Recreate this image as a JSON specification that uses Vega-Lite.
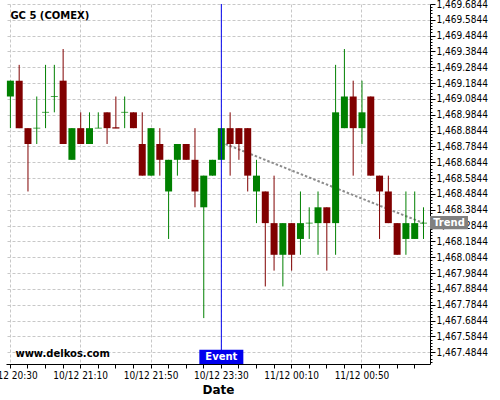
{
  "$schema": "https://vega.github.io/schema/vega-lite/v6.json",
  "width": 424,
  "height": 360,
  "autosize": {"type": "none"},
  "padding": {"left": 6, "top": 4, "right": 70, "bottom": 36},
  "config": {"font": "DejaVu Sans", "view": {"stroke": null}},
  "datasets": {
    "candles": [
      {"time": "10/12 20:30", "open": 1469.1, "high": 1469.2, "low": 1468.9, "close": 1469.2},
      {"time": "10/12 20:35", "open": 1469.2, "high": 1469.3, "low": 1468.9, "close": 1468.9},
      {"time": "10/12 20:40", "open": 1468.9, "high": 1468.9, "low": 1468.5, "close": 1468.8},
      {"time": "10/12 20:45", "open": 1468.9, "high": 1469.1, "low": 1468.8, "close": 1468.9},
      {"time": "10/12 20:50", "open": 1469.0, "high": 1469.3, "low": 1468.9, "close": 1469.0},
      {"time": "10/12 20:55", "open": 1469.1, "high": 1469.3, "low": 1469.0, "close": 1469.1},
      {"time": "10/12 21:00", "open": 1469.2, "high": 1469.4, "low": 1468.8, "close": 1468.8},
      {"time": "10/12 21:05", "open": 1468.7, "high": 1468.9, "low": 1468.7, "close": 1468.9},
      {"time": "10/12 21:10", "open": 1468.9, "high": 1469.0, "low": 1468.8, "close": 1468.8},
      {"time": "10/12 21:15", "open": 1468.8, "high": 1469.0, "low": 1468.8, "close": 1468.9},
      {"time": "10/12 21:20", "open": 1468.9, "high": 1469.0, "low": 1468.9, "close": 1468.9},
      {"time": "10/12 21:25", "open": 1469.0, "high": 1469.0, "low": 1468.8, "close": 1468.9},
      {"time": "10/12 21:30", "open": 1468.905, "high": 1469.1, "low": 1468.9, "close": 1468.9},
      {"time": "10/12 21:35", "open": 1469.0, "high": 1469.1, "low": 1468.9, "close": 1469.0},
      {"time": "10/12 21:40", "open": 1469.0, "high": 1469.0, "low": 1468.9, "close": 1468.9},
      {"time": "10/12 21:45", "open": 1468.8, "high": 1469.0, "low": 1468.6, "close": 1468.6},
      {"time": "10/12 21:50", "open": 1468.6, "high": 1468.9, "low": 1468.6, "close": 1468.9},
      {"time": "10/12 21:55", "open": 1468.8, "high": 1468.9, "low": 1468.6, "close": 1468.7},
      {"time": "10/12 23:00", "open": 1468.5, "high": 1468.7, "low": 1468.2, "close": 1468.7},
      {"time": "10/12 23:05", "open": 1468.7, "high": 1468.8, "low": 1468.6, "close": 1468.8},
      {"time": "10/12 23:10", "open": 1468.8, "high": 1468.8, "low": 1468.7, "close": 1468.7},
      {"time": "10/12 23:15", "open": 1468.7, "high": 1468.9, "low": 1468.4, "close": 1468.5},
      {"time": "10/12 23:20", "open": 1468.4, "high": 1468.6, "low": 1467.7, "close": 1468.6},
      {"time": "10/12 23:25", "open": 1468.6, "high": 1468.7, "low": 1468.6, "close": 1468.7},
      {"time": "10/12 23:30", "open": 1468.7, "high": 1468.9, "low": 1468.7, "close": 1468.9},
      {"time": "10/12 23:35", "open": 1468.9, "high": 1469.0, "low": 1468.6, "close": 1468.8},
      {"time": "10/12 23:40", "open": 1468.9, "high": 1468.9, "low": 1468.7, "close": 1468.8},
      {"time": "10/12 23:45", "open": 1468.9, "high": 1468.9, "low": 1468.5, "close": 1468.6},
      {"time": "10/12 23:50", "open": 1468.5, "high": 1468.7, "low": 1468.3, "close": 1468.6},
      {"time": "10/12 23:55", "open": 1468.5, "high": 1468.5, "low": 1467.9, "close": 1468.3},
      {"time": "11/12 00:00", "open": 1468.3, "high": 1468.6, "low": 1468.0, "close": 1468.1},
      {"time": "11/12 00:05", "open": 1468.1, "high": 1468.3, "low": 1467.9, "close": 1468.3},
      {"time": "11/12 00:10", "open": 1468.3, "high": 1468.3, "low": 1468.0, "close": 1468.1},
      {"time": "11/12 00:15", "open": 1468.2, "high": 1468.5, "low": 1468.1, "close": 1468.3},
      {"time": "11/12 00:20", "open": 1468.3, "high": 1468.4, "low": 1468.2, "close": 1468.3},
      {"time": "11/12 00:25", "open": 1468.3, "high": 1468.5, "low": 1468.1, "close": 1468.4},
      {"time": "11/12 00:30", "open": 1468.4, "high": 1468.4, "low": 1468.0, "close": 1468.3},
      {"time": "11/12 00:35", "open": 1468.3, "high": 1469.3, "low": 1468.1, "close": 1469.0},
      {"time": "11/12 00:40", "open": 1468.9, "high": 1469.4, "low": 1468.9, "close": 1469.1},
      {"time": "11/12 00:45", "open": 1469.1, "high": 1469.2, "low": 1468.6, "close": 1468.9},
      {"time": "11/12 00:50", "open": 1468.9, "high": 1469.2, "low": 1468.8, "close": 1469.0},
      {"time": "11/12 00:55", "open": 1469.1, "high": 1469.1, "low": 1468.6, "close": 1468.6},
      {"time": "11/12 01:00", "open": 1468.6, "high": 1468.6, "low": 1468.2, "close": 1468.5},
      {"time": "11/12 01:05", "open": 1468.5, "high": 1468.6, "low": 1468.3, "close": 1468.3},
      {"time": "11/12 01:10", "open": 1468.3, "high": 1468.3, "low": 1468.1, "close": 1468.1},
      {"time": "11/12 01:15", "open": 1468.2, "high": 1468.5, "low": 1468.1, "close": 1468.3},
      {"time": "11/12 01:20", "open": 1468.2, "high": 1468.5, "low": 1468.2, "close": 1468.3},
      {"time": "11/12 01:25", "open": 1468.3, "high": 1468.4, "low": 1468.2, "close": 1468.3}
    ],
    "trend": [
      {"time": "10/12 23:30", "value": 1468.81},
      {"time": "11/12 01:25", "value": 1468.30}
    ],
    "event": [
      {"time": "10/12 23:30", "label": "Event"}
    ],
    "trendLabel": [
      {"time": "11/12 01:25", "value": 1468.3, "label": "Trend"}
    ]
  },
  "layer": [
    {
      "data": {"name": "trend"},
      "mark": {"type": "line", "color": "#8c8c8c", "strokeWidth": 2, "strokeDash": [2.5, 2]},
      "encoding": {
        "x": {
          "field": "time", "type": "ordinal", "title": "Date",
          "scale": {"paddingInner": 0, "paddingOuter": 0.12, "align": 0},
          "axis": {
            "values": ["10/12 20:30", "10/12 20:40", "10/12 20:50", "10/12 21:00", "10/12 21:10", "10/12 21:20", "10/12 21:30", "10/12 21:40", "10/12 21:50", "10/12 23:00", "10/12 23:10", "10/12 23:20", "10/12 23:30", "10/12 23:40", "10/12 23:50", "11/12 00:00", "11/12 00:10", "11/12 00:20", "11/12 00:30", "11/12 00:40", "11/12 00:50", "11/12 01:00", "11/12 01:10", "11/12 01:20"],
            "labelExpr": "indexof(['10/12 20:30','10/12 21:10','10/12 21:50','10/12 23:30','11/12 00:10','11/12 00:50'], datum.value) >= 0 ? datum.label : ''",
            "grid": true,
            "gridColor": "#c8c8c8",
            "gridDash": [3, 2],
            "gridOpacity": {"condition": {"test": "indexof(['10/12 20:30','10/12 21:10','10/12 21:50','10/12 23:30','11/12 00:10','11/12 00:50'], datum.value) >= 0", "value": 1}, "value": 0},
            "domainColor": "#000000",
            "tickColor": "#000000",
            "tickSize": 4,
            "labelAngle": 0,
            "labelFont": "DejaVu Sans Condensed, DejaVu Sans",
            "labelFontSize": 10,
            "labelColor": "#000000",
            "labelPadding": 2,
            "labelOverlap": false,
            "labelFlush": false,
            "titleFontSize": 12,
            "titleFontWeight": "bold",
            "titleColor": "#000000",
            "titlePadding": 4
          }
        },
        "y": {
          "field": "value", "type": "quantitative", "title": null,
          "scale": {"domain": [1467.41, 1469.6844], "zero": false, "nice": false},
          "axis": {
            "orient": "right",
            "tickCount": 500,
            "values": [1467.4244,1467.4444,1467.4644,1467.4844,1467.5044,1467.5244,1467.5444,1467.5644,1467.5844,1467.6044,1467.6244,1467.6444,1467.6644,1467.6844,1467.7044,1467.7244,1467.7444,1467.7644,1467.7844,1467.8044,1467.8244,1467.8444,1467.8644,1467.8844,1467.9044,1467.9244,1467.9444,1467.9644,1467.9844,1468.0044,1468.0244,1468.0444,1468.0644,1468.0844,1468.1044,1468.1244,1468.1444,1468.1644,1468.1844,1468.2044,1468.2244,1468.2444,1468.2644,1468.2844,1468.3044,1468.3244,1468.3444,1468.3644,1468.3844,1468.4044,1468.4244,1468.4444,1468.4644,1468.4844,1468.5044,1468.5244,1468.5444,1468.5644,1468.5844,1468.6044,1468.6244,1468.6444,1468.6644,1468.6844,1468.7044,1468.7244,1468.7444,1468.7644,1468.7844,1468.8044,1468.8244,1468.8444,1468.8644,1468.8844,1468.9044,1468.9244,1468.9444,1468.9644,1468.9844,1469.0044,1469.0244,1469.0444,1469.0644,1469.0844,1469.1044,1469.1244,1469.1444,1469.1644,1469.1844,1469.2044,1469.2244,1469.2444,1469.2644,1469.2844,1469.3044,1469.3244,1469.3444,1469.3644,1469.3844,1469.4044,1469.4244,1469.4444,1469.4644,1469.4844,1469.5044,1469.5244,1469.5444,1469.5644,1469.5844,1469.6044,1469.6244,1469.6444,1469.6644,1469.6844],
            "labelExpr": "abs((datum.value - 1467.4844) * 10 - round((datum.value - 1467.4844) * 10)) < 0.01 ? format(datum.value, ',.4f') : ''",
            "grid": true,
            "gridColor": "#c8c8c8",
            "gridDash": [3, 2],
            "gridOpacity": {"condition": {"test": "abs((datum.value - 1467.4844) * 10 - round((datum.value - 1467.4844) * 10)) < 0.01", "value": 1}, "value": 0},
            "tickSize": {"condition": {"test": "abs((datum.value - 1467.4844) * 10 - round((datum.value - 1467.4844) * 10)) < 0.01", "value": 5}, "value": 2},
            "domainColor": "#000000",
            "tickColor": "#000000",
            "labelFont": "DejaVu Sans Condensed, DejaVu Sans",
            "labelFontSize": 10,
            "labelColor": "#000000",
            "labelPadding": 1,
            "labelOverlap": false,
            "labelFlush": false
          }
        }
      }
    },
    {
      "data": {"name": "candles"},
      "mark": {"type": "rule", "strokeWidth": 1},
      "encoding": {
        "x": {"field": "time", "type": "ordinal", "title": "Date"},
        "y": {"field": "low", "type": "quantitative", "title": null},
        "y2": {"field": "high"},
        "color": {"condition": {"test": "datum.close >= datum.open", "value": "#008000"}, "value": "#800000"}
      }
    },
    {
      "data": {"name": "candles"},
      "mark": {"type": "bar", "width": 7},
      "encoding": {
        "x": {"field": "time", "type": "ordinal", "title": "Date"},
        "y": {"field": "open", "type": "quantitative", "title": null},
        "y2": {"field": "close"},
        "color": {"condition": {"test": "datum.close >= datum.open", "value": "#008000"}, "value": "#800000"}
      }
    },
    {
      "data": {"name": "candles"},
      "transform": [{"filter": "abs(datum.open - datum.close) < 0.01"}],
      "mark": {"type": "tick", "size": 7, "thickness": 1},
      "encoding": {
        "x": {"field": "time", "type": "ordinal", "title": "Date"},
        "y": {"field": "close", "type": "quantitative", "title": null},
        "color": {"condition": {"test": "datum.close >= datum.open", "value": "#008000"}, "value": "#800000"}
      }
    },
    {
      "data": {"name": "event"},
      "mark": {"type": "rule", "color": "#0000ee", "strokeWidth": 1},
      "encoding": {
        "x": {"field": "time", "type": "ordinal", "title": "Date"}
      }
    },
    {
      "data": {"name": "event"},
      "mark": {"type": "bar", "color": "#0000ee", "width": 44},
      "encoding": {
        "x": {"field": "time", "type": "ordinal", "title": "Date"},
        "y": {"datum": 1467.41},
        "y2": {"datum": 1467.5}
      }
    },
    {
      "data": {"name": "event"},
      "mark": {"type": "text", "color": "#ffffff", "fontWeight": "bold", "fontSize": 10, "baseline": "middle", "align": "center"},
      "encoding": {
        "x": {"field": "time", "type": "ordinal", "title": "Date"},
        "y": {"datum": 1467.456},
        "text": {"field": "label"}
      }
    },
    {
      "data": {"name": "trendLabel"},
      "mark": {"type": "bar", "color": "#808080", "width": 38, "xOffset": 25.5},
      "encoding": {
        "x": {"field": "time", "type": "ordinal", "title": "Date"},
        "y": {"datum": 1468.345},
        "y2": {"datum": 1468.261}
      }
    },
    {
      "data": {"name": "trendLabel"},
      "mark": {"type": "text", "color": "#ffffff", "fontWeight": "bold", "fontSize": 10, "baseline": "middle", "align": "center", "dx": 25.5},
      "encoding": {
        "x": {"field": "time", "type": "ordinal", "title": "Date"},
        "y": {"field": "value", "type": "quantitative", "title": null},
        "text": {"field": "label"}
      }
    },
    {
      "data": {"values": [{}]},
      "mark": {"type": "text", "text": "GC 5 (COMEX)", "align": "left", "baseline": "alphabetic", "fontWeight": "bold", "fontSize": 10, "color": "#000000", "dy": 15},
      "encoding": {
        "x": {"datum": "10/12 20:30"},
        "y": {"datum": 1469.6844}
      }
    },
    {
      "data": {"values": [{}]},
      "mark": {"type": "text", "text": "www.delkos.com", "align": "left", "baseline": "alphabetic", "fontWeight": "bold", "fontSize": 10, "color": "#000000", "dx": 5, "dy": -7},
      "encoding": {
        "x": {"datum": "10/12 20:30"},
        "y": {"datum": 1467.41}
      }
    }
  ]
}
